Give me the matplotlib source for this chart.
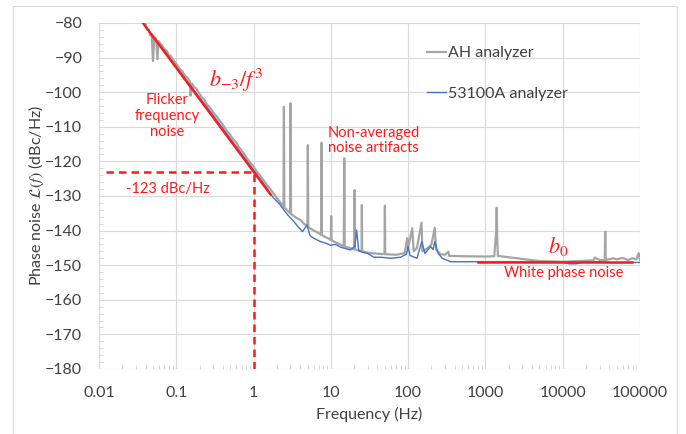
import matplotlib.pyplot as plt
from matplotlib.patches import Rectangle
from matplotlib.ticker import FixedLocator, MultipleLocator, LogLocator, NullFormatter

plt.rcParams['font.family'] = ['Lato', 'DejaVu Sans']
plt.rcParams['mathtext.fontset'] = 'stix'

# AH analyzer (gray)
ah_freq = [0.037, 0.040, 0.042, 0.044, 0.046, 0.048, 0.050, 0.052, 0.055, 0.057,
           0.059, 0.062, 0.065, 0.070, 0.075, 0.080, 0.085, 0.092, 0.10, 0.11,
           0.12, 0.13, 0.14, 0.150, 0.153, 0.16, 0.17, 0.18, 0.20, 0.22,
           0.23, 0.25, 0.27, 0.30, 0.33, 0.35, 0.40, 0.44, 0.47, 0.55,
           0.60, 0.65, 0.75, 0.85, 1.0, 1.1, 1.2, 1.4, 1.7, 2.0,
           2.3, 2.44, 2.47, 2.50, 2.8, 2.98, 3.01, 3.05, 3.5, 4.06,
           4.5, 4.98, 5.04, 5.10, 6.0, 6.7, 7.5, 7.58, 7.65, 8.5,
           10.0, 10.1, 10.2, 12, 14.7, 14.9, 15.1, 18, 20.1, 20.3,
           20.5, 23, 25.0, 25.2, 25.4, 30, 40, 49.5, 50, 50.5,
           70, 90, 97.5, 100, 113, 118, 130, 149, 153, 180,
           200, 221, 230, 260, 300, 331, 340, 500, 1000, 1300,
           1380, 1400, 1420, 1450, 2000, 5000, 10000, 20000, 25000, 26000,
           30000, 35000, 35500, 36000, 45000, 50000, 60000, 70000, 80000, 90000,
           96000, 100000]
ah_db = [-79.5, -80.2, -82.0, -81.8, -83.6, -83.2, -91.0, -84.0, -84.6, -90.5,
         -85.2, -86.0, -86.3, -87.6, -88.0, -89.2, -89.6, -90.8, -91.8, -93.2,
         -94.0, -95.3, -95.9, -96.8, -101.0, -97.5, -98.6, -98.8, -100.5, -101.8,
         -102.2, -103.6, -104.3, -105.8, -106.9, -107.7, -109.4, -110.8, -111.6, -113.7,
         -114.6, -116.0, -117.7, -119.6, -121.5, -123.0, -123.9, -126.0, -128.4, -130.6,
         -132.3, -133.0, -104.2, -133.3, -134.4, -135.0, -103.2, -135.2, -136.2, -137.0,
         -138.0, -138.8, -115.3, -139.0, -140.0, -140.5, -141.2, -114.6, -141.3, -141.9,
         -142.6, -135.8, -142.8, -143.6, -144.5, -119.1, -144.6, -145.1, -145.4, -128.3,
         -145.4, -145.8, -146.0, -132.6, -146.0, -146.4, -146.7, -146.8, -132.8, -146.8,
         -147.0, -146.5, -142.2, -145.0, -139.3, -146.0, -145.0, -137.7, -146.0, -145.0,
         -144.0, -139.2, -145.5, -146.8, -147.0, -146.1, -147.3, -147.4, -147.5, -147.4,
         -140.0, -133.4, -142.0, -147.3, -147.7, -148.8, -149.0, -148.7, -148.6, -147.8,
         -148.5, -148.5, -140.3, -148.5, -148.0, -148.3, -147.9, -148.5, -148.0, -148.3,
         -146.5, -148.5]

# 53100A analyzer (blue)
hp_freq = [0.040, 0.05, 0.07, 0.1, 0.15, 0.2, 0.3, 0.5, 0.7, 1.0,
           1.5, 1.8, 2.2, 2.5, 2.8, 3.3, 3.8, 4.3, 4.9, 5.4,
           6.0, 7.4, 8.5, 9.9, 11.5, 13.4, 18, 20.5, 21.5, 23,
           26, 30, 36, 45, 59, 80, 95, 100, 106, 115,
           130, 150, 165, 195, 210, 221, 245, 277, 355, 1000,
           5000, 10000, 12000, 15000, 18000, 30000, 45000, 70000, 100000]
hp_db = [-81.0, -84.0, -87.9, -92.6, -97.8, -101.5, -106.7, -113.4, -117.8, -122.5,
         -127.8, -130.5, -132.5, -134.2, -135.6, -137.3, -139.0, -140.3, -138.4, -141.5,
         -142.2, -143.2, -143.6, -144.2, -144.0, -144.8, -145.6, -144.5, -139.8, -145.8,
         -146.3, -146.6, -147.7, -147.7, -148.0, -147.7, -146.8, -144.6, -147.2, -147.5,
         -148.0, -143.2, -146.6, -144.6, -145.5, -143.2, -146.6, -148.0, -149.0, -149.0,
         -149.0, -149.1, -149.6, -149.6, -149.1, -149.0, -149.3, -149.2, -149.2]

# fitted noise model lines
flicker_freq = [0.037, 1.66]
flicker_db = [-80.0, -129.6]
white_freq = [790, 79000]
white_db = [-149.2, -149.2]
marker_freq = 1.0
marker_db = -123

x_ticks = [0.01, 0.1, 1, 10, 100, 1000, 10000, 100000]
x_labels = ['0.01', '0.1', '1', '10', '100', '1000', '10000', '100000']
y_ticks = list(range(-180, -79, 10))

red = '#FF1A1A'
fig = plt.figure(figsize=(6.86, 4.34), dpi=100)
fig.patches.append(Rectangle((13 / 686, -0.05), (677 - 13) / 686, 1.05 - 6 / 434,
                             transform=fig.transFigure, fill=False,
                             edgecolor='#D9D9D9', linewidth=0.8))
ax = fig.add_axes([99 / 686, 1 - 369 / 434, (640 - 99) / 686, (369 - 23) / 434])

ax.plot(ah_freq, ah_db, color='#A5A5A5', lw=1.6, label='AH analyzer', zorder=3)
ax.plot(hp_freq, hp_db, color='#4472C4', lw=1.0, label='53100A analyzer', zorder=4)
ax.plot(flicker_freq, flicker_db, color=red, lw=1.7, zorder=5)
ax.plot(white_freq, white_db, color=red, lw=1.8, zorder=5)
ax.plot([0.0123, marker_freq], [marker_db, marker_db], color=red, lw=1.8, ls=(0, (3, 2)), zorder=5)
ax.plot([marker_freq, marker_freq], [-180, marker_db], color=red, lw=1.8, ls=(0, (3, 2)), zorder=5)

ax.set_xscale('log')
ax.set_xlim(0.01, 100000)
ax.set_ylim(-180, -80)
ax.xaxis.set_major_locator(FixedLocator(x_ticks))
ax.set_xticklabels(x_labels)
ax.xaxis.set_minor_locator(LogLocator(base=10, subs=range(2, 10), numticks=20))
ax.xaxis.set_minor_formatter(NullFormatter())
ax.set_yticks(y_ticks)
ax.yaxis.set_minor_locator(MultipleLocator(2))
ax.grid(True, which='major', color='#D9D9D9', lw=0.8, zorder=0)
for s in ax.spines.values():
    s.set_visible(False)
ax.tick_params(which='major', length=0, pad=12, labelsize=11.5, labelcolor='#404040')
ax.tick_params(axis='x', which='minor', direction='in', length=3, color='#D0D0D0')
ax.tick_params(axis='y', which='minor', direction='in', length=3, color='#D0D0D0')

ax.set_xlabel('Frequency (Hz)', fontsize=11.5, color='#404040', labelpad=5)
ax.set_ylabel(r'Phase noise $\mathcal{L}(f)$ (dBc/Hz)', fontsize=11.5, color='#404040', labelpad=-1)

ax.text(0.6, -96.5, r'$b_{-3}/f^3$', color=red, fontsize=16, ha='center', va='center')
ax.text(0.077, -106.9, 'Flicker\nfrequency\nnoise', color=red, fontsize=10.5,
        ha='center', va='center', linespacing=1.2)
ax.text(0.079, -128.0, '-123 dBc/Hz', color=red, fontsize=10.5, ha='center', va='center')
ax.text(9.07, -114.0, 'Non-averaged\nnoise artifacts', color=red, fontsize=10.5,
        ha='left', va='center', linespacing=1.15)
ax.text(8860, -144.7, r'$b_0$', color=red, fontsize=16, ha='center', va='center')
ax.text(10170, -152.3, 'White phase noise', color=red, fontsize=10.5, ha='center', va='center')

ax.legend(loc='upper left', bbox_to_anchor=(0.58, 0.975), frameon=False, fontsize=11.5,
          handlelength=1.2, handletextpad=0.1, labelspacing=1.65, labelcolor='#404040')

fig.savefig('out.png', dpi=100)
